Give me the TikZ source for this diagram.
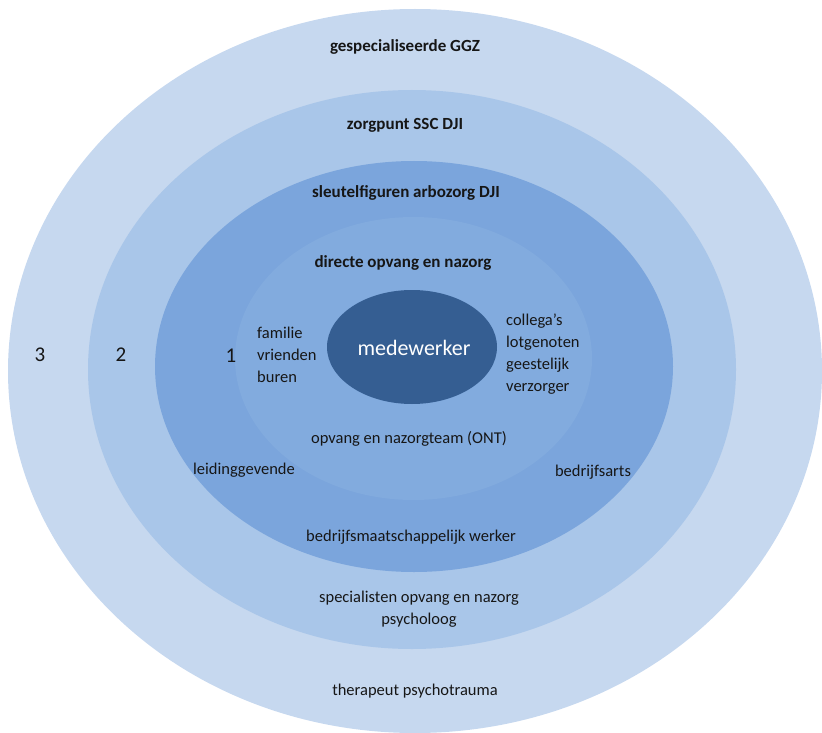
\documentclass[tikz,border=0pt]{standalone}
\usepackage{fontspec}
\setmainfont{Carlito}
\definecolor{ringA}{HTML}{C6D8EF}
\definecolor{ringB}{HTML}{A9C6E9}
\definecolor{ringC}{HTML}{7BA5DC}
\definecolor{ringD}{HTML}{82ABDE}
\definecolor{core}{HTML}{355E92}
\definecolor{txt}{HTML}{161616}
\begin{document}
\begin{tikzpicture}[x=1pt,y=-1pt,
  lbl/.style={text=txt,inner sep=0pt,font=\fontsize{16.5}{22}\selectfont},
  blbl/.style={text=txt,inner sep=0pt,font=\fontsize{17}{22}\selectfont\bfseries},
  num/.style={text=txt,inner sep=0pt,font=\fontsize{21}{24}\selectfont},
  lst/.style={lbl,align=left,anchor=west,font=\fontsize{16.5}{22}\selectfont}]
\useasboundingbox (0,0) rectangle (822,733);
\fill[ringA] (415,371) ellipse [x radius=407pt, y radius=362pt];
\fill[ringB] (412,369.5) ellipse [x radius=324pt, y radius=279.5pt];
\fill[ringC] (414,366.5) ellipse [x radius=259pt, y radius=205.5pt];
\fill[ringD] (413.5,358.5) ellipse [x radius=178.5pt, y radius=141.5pt];
\fill[core] (412,347) ellipse [x radius=85pt, y radius=57pt];

\node[blbl] (ggz) at (405,47) {gespecialiseerde GGZ};
\node[blbl] (ssc) at (405,125) {zorgpunt SSC DJI};
\node[blbl] (arbo) at (406,193) {sleutelfiguren arbozorg DJI};
\node[blbl] (direct) at (403,263) {directe opvang en nazorg};
\node[lbl,text=white,font=\fontsize{22}{26}\selectfont] (mw) at (414,348) {medewerker};
\node[lst] (fam) at (257,354.5) {familie\\vrienden\\buren};
\node[lst] (col) at (506,354.5) {collega’s\\lotgenoten\\geestelijk\\verzorger};
\node[num] (n1) at (231,356) {1};
\node[num] (n2) at (121,355) {2};
\node[num] (n3) at (40,355) {3};
\node[lbl] (ont) at (409,439) {opvang en nazorgteam (ONT)};
\node[lbl] (leid) at (244,470) {leidinggevende};
\node[lbl] (arts) at (593,472) {bedrijfsarts};
\node[lbl] (bmw) at (411,537) {bedrijfsmaatschappelijk werker};
\node[lbl,align=center,font=\fontsize{16.5}{22}\selectfont] (spec) at (419,609) {specialisten opvang en nazorg\\psycholoog};
\node[lbl] (ther) at (415,691) {therapeut psychotrauma};
\end{tikzpicture}
\end{document}
